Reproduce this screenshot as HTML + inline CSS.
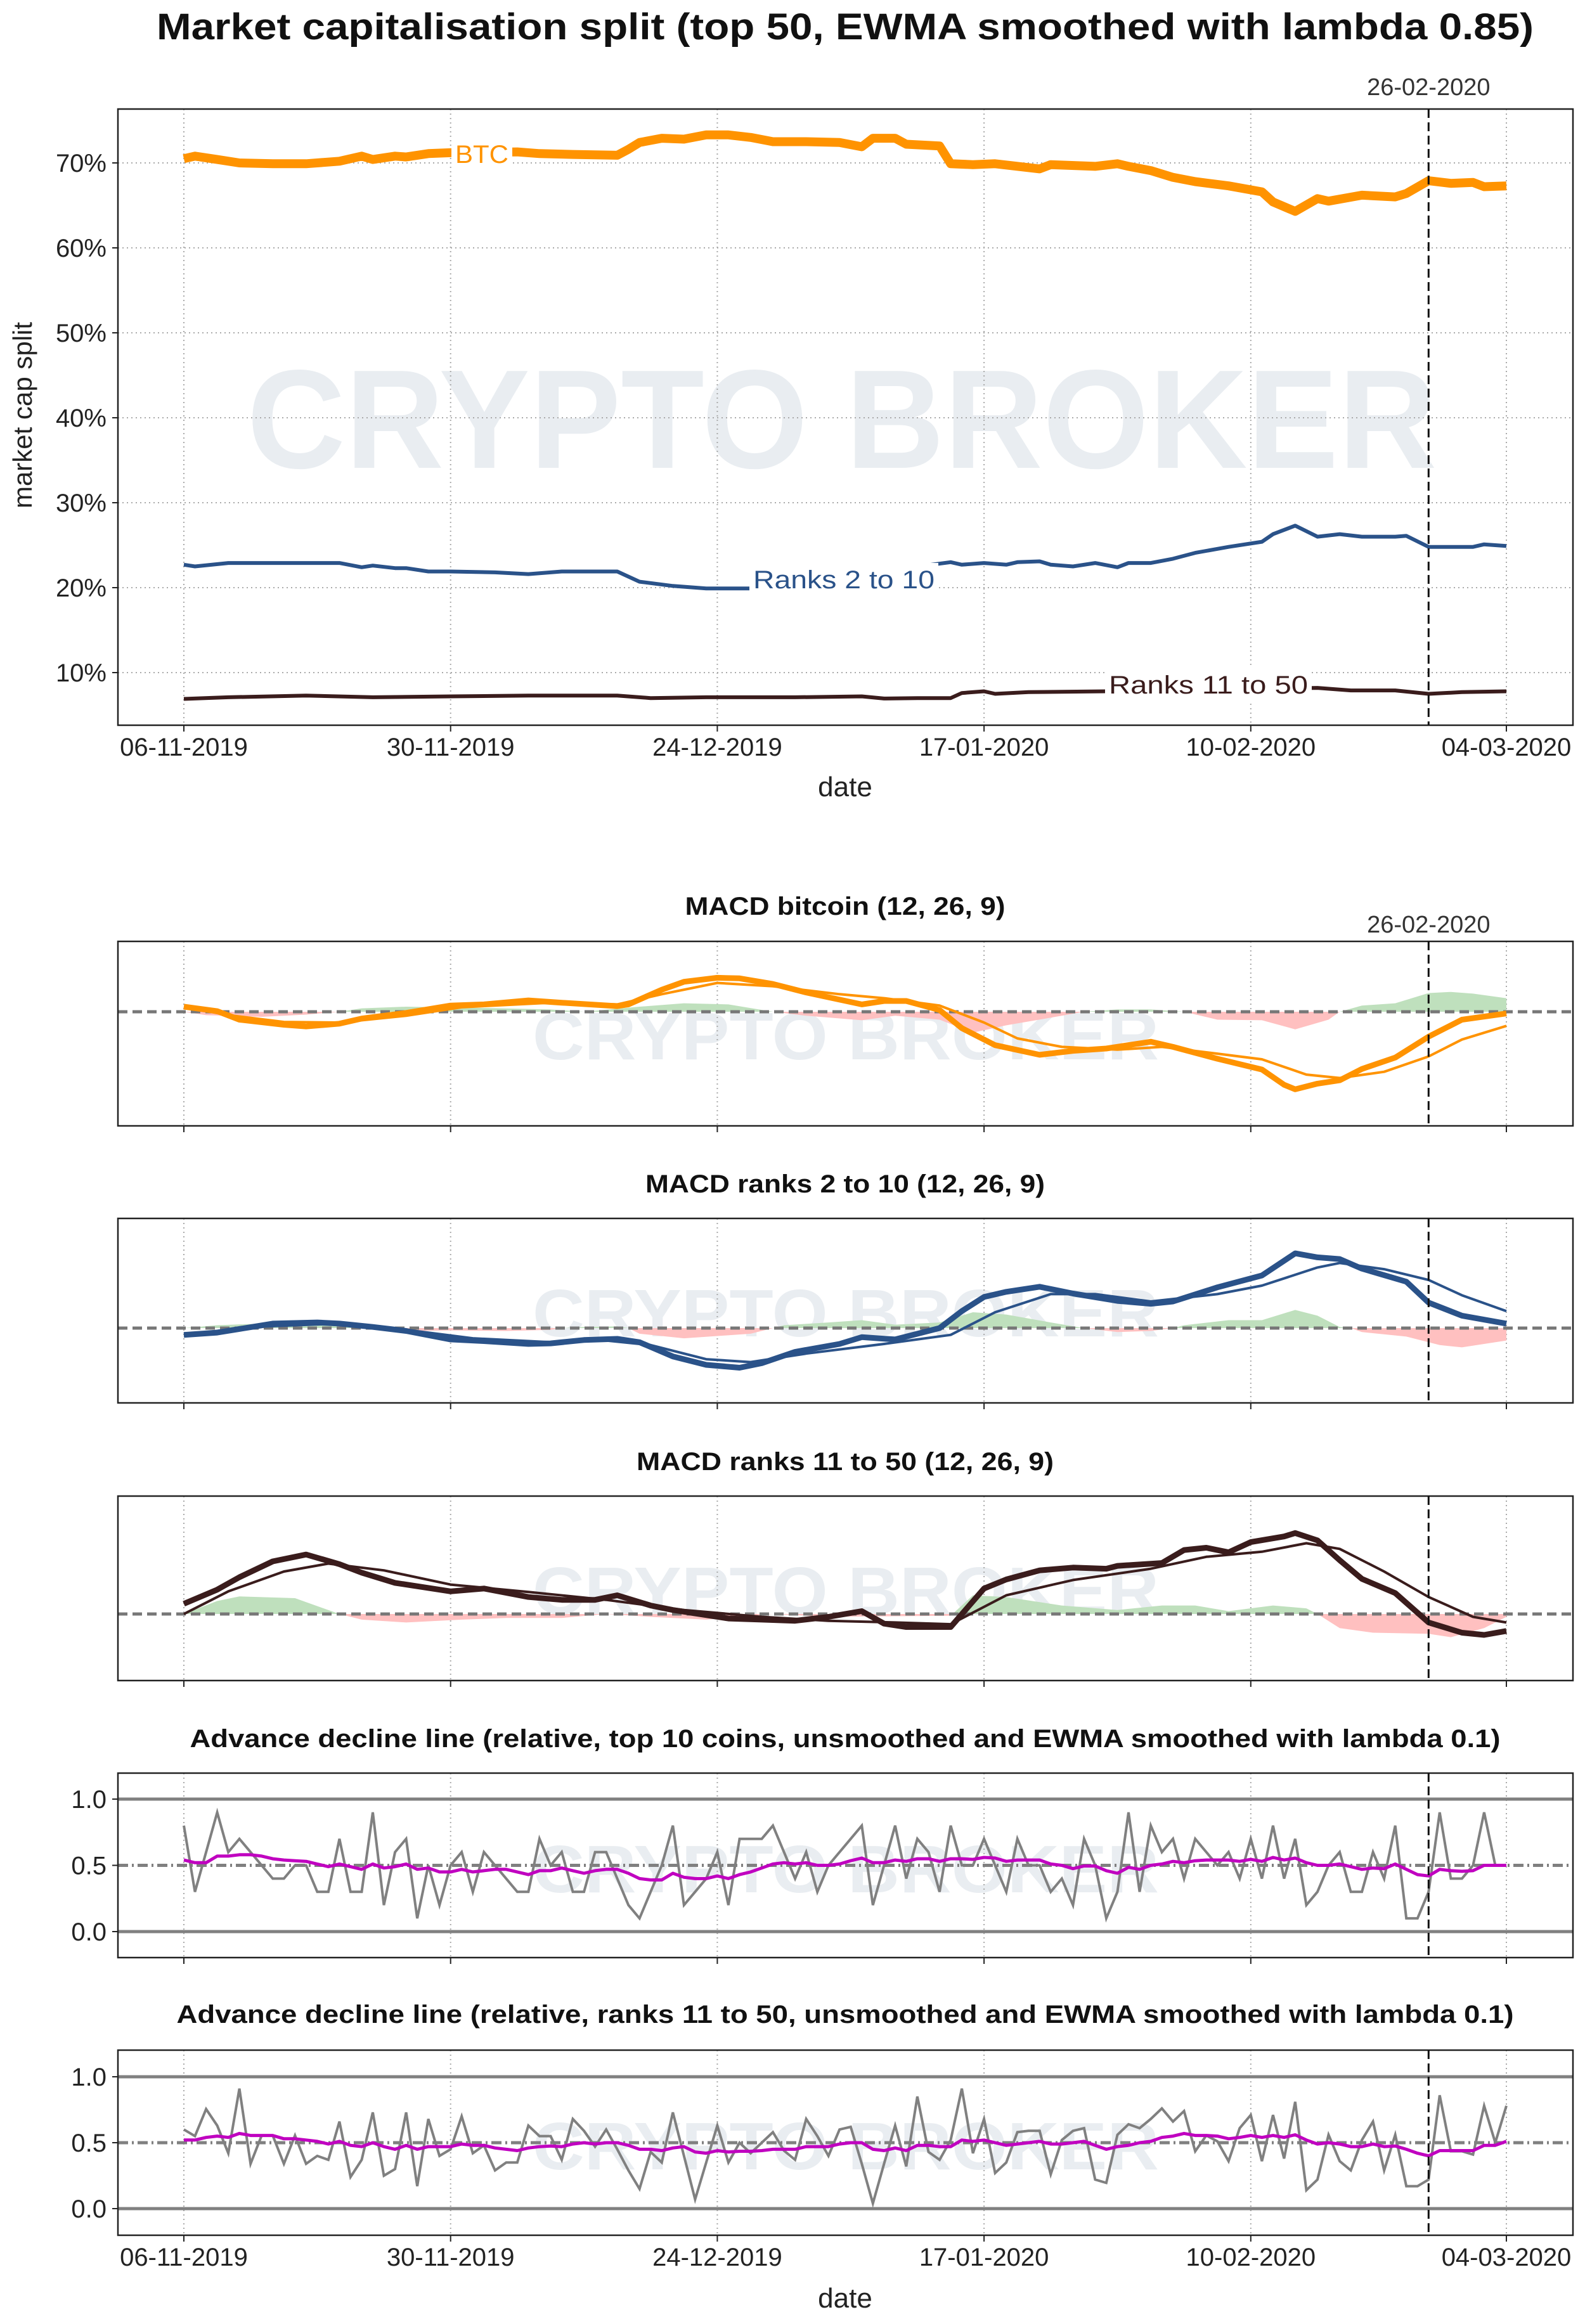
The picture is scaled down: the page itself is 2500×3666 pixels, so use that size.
<!DOCTYPE html>
<html><head><meta charset="utf-8"><title>Market capitalisation split</title>
<style>
html,body{margin:0;padding:0;background:#fff;}
svg{display:block;}
text{font-family:"Liberation Sans","DejaVu Sans",sans-serif;}
</style></head>
<body>
<svg id="fig" xmlns="http://www.w3.org/2000/svg" width="2500" height="3666" viewBox="0 0 2500 3666">
<rect x="0" y="0" width="2500" height="3666" fill="#fff"/>
<text x="1333" y="62" text-anchor="middle" font-size="58" font-weight="bold" fill="#111" textLength="2172" lengthAdjust="spacingAndGlyphs">Market capitalisation split (top 50, EWMA smoothed with lambda 0.85)</text>
<g id="root"></g>
</svg>
<script>
// ---------- shared axis ----------
const tickDays = [0, 24, 48, 72, 96, 119];
const tickLabels = ["06-11-2019", "30-11-2019", "24-12-2019", "17-01-2020", "10-02-2020", "04-03-2020"];
const markerDay = 112;
const markerLabel = "26-02-2020";

// ---------- top chart: market cap split (%) ----------
const btcDays = [0,1,3,5,8,11,14,16,17,19,20,22,24,30,32,35,39,40,41,43,45,47,49,51,53,56,59,61,62,64,65,68,69,71,73,77,78,82,84,85,87,89,91,94,97,98,100,102,103,106,109,110,112,114,116,117,119];
const btcVals = [70.5,70.8,70.4,70.0,69.9,69.9,70.2,70.8,70.4,70.8,70.7,71.1,71.2,71.3,71.1,71.0,70.9,71.6,72.4,72.9,72.8,73.3,73.3,73.0,72.5,72.5,72.4,71.9,72.9,72.9,72.2,72.0,69.9,69.8,69.9,69.3,69.8,69.6,69.9,69.6,69.1,68.3,67.8,67.3,66.6,65.4,64.3,65.8,65.5,66.2,66.0,66.4,67.9,67.6,67.7,67.2,67.3];
const r2Days = [0,1,4,11,14,16,17,19,20,22,24,28,31,34,39,41,44,47,51,69,70,72,74,75,77,78,80,82,84,85,87,89,91,94,97,98,100,102,104,106,109,110,112,114,116,117,119];
const r2Vals = [22.7,22.5,22.9,22.9,22.9,22.4,22.6,22.3,22.3,21.9,21.9,21.8,21.6,21.9,21.9,20.7,20.2,19.9,19.9,23.0,22.7,22.9,22.7,23.0,23.1,22.7,22.5,22.9,22.4,22.9,22.9,23.4,24.1,24.8,25.4,26.3,27.3,26.0,26.3,26.0,26.0,26.1,24.8,24.8,24.8,25.1,24.9];
const r11Days = [0,4,11,17,24,31,39,42,47,55,61,63,66,69,70,72,73,76,83,102,105,109,112,115,119];
const r11Vals = [6.9,7.1,7.3,7.1,7.2,7.3,7.3,7.0,7.1,7.1,7.2,6.95,7.0,7.0,7.6,7.8,7.5,7.7,7.8,8.2,7.9,7.9,7.5,7.7,7.8];
const pctTicks = [10,20,30,40,50,60,70];

// ---------- MACD panels (arbitrary units) ----------
const m1MacdDays = [0,3,5,9,11,14,16,20,24,27,31,34,39,40,43,45,48,50,53,56,61,63,65,68,70,73,77,80,83,87,89,93,97,99,100,102,104,106,109,112,115,119];
const m1MacdVals = [9,1,-14,-23,-26,-21,-12,-2,11,13,20,16,10,13,39,53,60,59,49,34,13,19,19,3,-29,-59,-76,-69,-65,-53,-62,-83,-102,-129,-137,-127,-121,-101,-81,-44,-14,-3];
const m1SigDays = [0,4,9,14,20,25,33,39,43,48,53,59,63,68,72,75,79,84,88,93,97,101,104,108,112,115,119];
const m1SigVals = [9,-6,-18,-19,-7,8,16,13,31,51,45,31,24,11,-19,-47,-62,-67,-62,-74,-84,-111,-117,-106,-79,-49,-25];
const m1HistDays = [0,2,7,11,14,16,20,26,33,36,41,45,49,53,56,61,64,68,71,74,79,81,84,87,90,93,97,100,103,104,106,109,112,114,116,119];
const m1HistVals = [0,-6,-9,-5,0,6,9,7,4,0,9,15,13,0,-7,-15,-7,-14,-37,-24,-7,0,4,4,0,-14,-15,-31,-14,0,11,15,33,35,32,24];

const m2MacdDays = [0,3,8,12,14,17,20,24,27,31,33,36,39,41,44,47,50,52,55,59,61,64,68,70,72,74,77,80,84,87,89,93,97,100,102,104,106,110,112,115,119];
const m2MacdVals = [-12,-8,8,10,8,2,-5,-20,-23,-28,-27,-21,-19,-25,-50,-65,-70,-62,-42,-28,-16,-20,0,30,55,64,73,61,48,43,47,72,93,132,125,122,105,82,45,22,8];
const m2SigDays = [0,6,14,20,26,33,38,42,47,51,56,63,69,73,78,82,87,93,97,102,104,108,112,115,119];
const m2SigVals = [-12,2,8,-3,-18,-25,-22,-30,-55,-60,-45,-28,-12,28,60,60,47,60,75,107,115,104,85,58,30];
const m2HistDays = [0,3,7,13,16,18,20,24,29,33,34,36,39,40,41,45,51,53,54,58,61,64,68,71,74,78,81,84,87,89,90,94,97,100,102,104,105,106,110,113,115,119];
const m2HistVals = [0,5,8,6,2,0,-5,-4,-5,-3,0,2,3,0,-10,-18,-10,0,5,10,14,6,10,28,24,10,0,-7,-5,0,5,14,14,32,22,2,0,-7,-15,-30,-34,-22];

const m3MacdDays = [0,3,5,8,11,14,16,19,24,27,31,34,37,39,42,44,49,52,55,58,61,63,65,69,72,74,77,80,83,84,88,90,92,94,96,99,100,102,104,106,109,112,115,117,119];
const m3MacdVals = [18,43,65,93,105,88,73,55,40,45,30,25,25,33,15,7,-8,-10,-12,-5,5,-17,-23,-23,45,61,77,82,80,85,90,113,117,109,127,137,143,130,95,62,37,-15,-33,-37,-30];
const m3SigDays = [0,4,9,13,18,24,31,38,45,52,58,64,69,74,80,87,92,97,101,104,108,112,116,119];
const m3SigVals = [0,40,75,89,77,52,39,25,7,-5,-12,-15,-18,33,60,80,101,110,125,115,75,30,-5,-15];
const m3HistDays = [0,3,5,10,14,16,20,25,29,34,38,42,47,53,58,69,71,74,79,84,88,91,94,98,101,102,104,107,112,114,117,119];
const m3HistVals = [0,23,31,28,0,-10,-15,-10,-7,-7,0,-5,-10,0,-5,-3,33,30,15,7,15,15,5,15,10,0,-25,-33,-35,-41,-25,-5];

// ---------- Advance decline (relative) ----------
const ad1Raw = [0.8,0.3,0.6,0.9,0.6,0.7,0.6,0.5,0.4,0.4,0.5,0.5,0.3,0.3,0.7,0.3,0.3,0.9,0.2,0.6,0.7,0.1,0.5,0.2,0.5,0.6,0.3,0.6,0.5,0.4,0.3,0.3,0.7,0.5,0.6,0.3,0.3,0.6,0.6,0.4,0.2,0.1,0.3,0.5,0.8,0.2,0.3,0.4,0.6,0.2,0.7,0.7,0.7,0.8,0.6,0.4,0.6,0.3,0.5,0.6,
0.7,0.8,0.2,0.5,0.8,0.4,0.7,0.6,0.3,0.8,0.5,0.5,0.7,0.5,0.3,0.7,0.5,0.5,0.3,0.4,0.2,0.7,0.5,0.1,0.3,0.9,0.3,0.8,0.6,0.7,0.4,0.7,0.6,0.5,0.6,0.4,0.7,0.4,0.8,0.4,0.7,0.2,0.3,0.5,0.6,0.3,0.3,0.6,0.4,0.8,0.1,0.1,0.3,0.9,0.4,0.4,0.5,0.9,0.5,0.5];
const ad1Smooth = [0.54,0.52,0.52,0.57,0.57,0.58,0.58,0.57,0.55,0.54,0.535,0.53,0.51,0.49,0.51,0.49,0.47,0.51,0.48,0.49,0.51,0.47,0.48,0.45,0.45,0.47,0.45,0.46,0.47,0.47,0.45,0.43,0.46,0.46,0.48,0.46,0.44,0.46,0.47,0.47,0.44,0.40,0.39,0.39,0.44,0.41,0.40,0.40,0.42,0.40,0.43,0.45,0.48,0.51,0.52,0.51,0.52,0.50,0.50,0.51,
0.535,0.555,0.52,0.52,0.54,0.53,0.55,0.55,0.53,0.55,0.55,0.545,0.56,0.555,0.53,0.54,0.54,0.54,0.51,0.50,0.475,0.495,0.495,0.46,0.44,0.485,0.47,0.50,0.51,0.53,0.52,0.535,0.54,0.54,0.54,0.53,0.545,0.53,0.56,0.54,0.555,0.52,0.50,0.50,0.51,0.49,0.47,0.48,0.475,0.51,0.47,0.43,0.42,0.47,0.46,0.455,0.46,0.50,0.50,0.50];
const ad2Raw = [0.60,0.55,0.755,0.63,0.42,0.91,0.34,0.555,0.555,0.34,0.555,0.34,0.40,0.37,0.66,0.24,0.37,0.73,0.25,0.30,0.73,0.17,0.68,0.40,0.45,0.70,0.42,0.48,0.29,0.35,0.35,0.63,0.55,0.55,0.37,0.68,0.59,0.47,0.60,0.45,0.29,0.15,0.43,0.35,0.73,0.40,0.07,0.35,0.63,0.35,0.50,0.42,0.50,0.58,0.44,0.37,0.68,0.55,0.40,0.60,
0.62,0.34,0.04,0.34,0.63,0.32,0.85,0.43,0.37,0.52,0.91,0.42,0.68,0.27,0.35,0.58,0.59,0.59,0.26,0.52,0.59,0.61,0.22,0.195,0.56,0.64,0.61,0.68,0.76,0.66,0.74,0.435,0.555,0.51,0.36,0.61,0.71,0.36,0.71,0.38,0.81,0.14,0.22,0.56,0.36,0.29,0.52,0.66,0.29,0.56,0.17,0.17,0.22,0.86,0.435,0.435,0.41,0.78,0.50,0.78];
const ad2Smooth = [0.52,0.52,0.54,0.55,0.54,0.57,0.555,0.555,0.555,0.53,0.53,0.52,0.51,0.49,0.51,0.48,0.47,0.50,0.47,0.45,0.48,0.45,0.47,0.47,0.47,0.49,0.48,0.48,0.46,0.45,0.44,0.46,0.47,0.475,0.47,0.49,0.50,0.49,0.50,0.50,0.48,0.45,0.45,0.44,0.46,0.47,0.43,0.42,0.44,0.43,0.435,0.435,0.44,0.45,0.45,0.45,0.47,0.47,0.47,0.49,
0.50,0.50,0.45,0.44,0.46,0.44,0.48,0.48,0.47,0.47,0.52,0.51,0.52,0.50,0.48,0.49,0.50,0.51,0.49,0.49,0.50,0.51,0.48,0.45,0.47,0.48,0.50,0.51,0.54,0.55,0.57,0.555,0.555,0.55,0.53,0.54,0.555,0.54,0.555,0.54,0.56,0.52,0.49,0.50,0.49,0.47,0.47,0.49,0.47,0.475,0.45,0.42,0.40,0.44,0.44,0.44,0.44,0.48,0.48,0.51];
const adTicks = [0.0, 0.5, 1.0];
const adTickLabels = ["0.0", "0.5", "1.0"];

// ---------- drawing ----------
const NS = "http://www.w3.org/2000/svg";
const root = document.getElementById('root');
const X0 = 186, X1 = 2481;
const xDay = d => 290 + d * (2376 - 290) / 119;

function mk(tag, attrs, parent) {
  const e = document.createElementNS(NS, tag);
  for (const k in attrs) e.setAttribute(k, attrs[k]);
  (parent || root).appendChild(e);
  return e;
}
function txt(str, attrs, parent) { const t = mk('text', attrs, parent); t.textContent = str; return t; }
function linePath(days, vals, yf) {
  return days.map((d, i) => (i ? 'L' : 'M') + xDay(d).toFixed(1) + ' ' + yf(vals[i]).toFixed(1)).join(' ');
}

function frame(top, bottom, withLabels, name) {
  const g = mk('g', {});
  
  
  tickDays.forEach((d, i) => {
    const gl = mk('line', {x1: xDay(d), x2: xDay(d), y1: top, y2: bottom, stroke: '#aaa', 'stroke-width': 2, 'stroke-dasharray': '2 5'}, g);
    
    
    const tk = mk('line', {x1: xDay(d), x2: xDay(d), y1: bottom, y2: bottom + 10, stroke: '#222', 'stroke-width': 2}, g);
    
    
    if (withLabels) {
      const t = txt(tickLabels[i], {x: xDay(d), y: bottom + 48, 'text-anchor': 'middle', 'font-size': 40, fill: '#222'}, g);
      
      
    }
  });
  return g;
}
function border(top, bottom, name) {
  const r = mk('rect', {x: X0, y: top, width: X1 - X0, height: bottom - top, fill: 'none', stroke: '#222', 'stroke-width': 2.5});
  
  
  const v = mk('line', {x1: xDay(markerDay), x2: xDay(markerDay), y1: top, y2: bottom, stroke: '#111', 'stroke-width': 3, 'stroke-dasharray': '14 7'});
  
  
}
function watermark(x, y, size, len) {
  const w = txt('CRYPTO BROKER', {x: x, y: y, 'text-anchor': 'middle', 'font-size': size, 'font-weight': 'bold', fill: '#e9edf1', textLength: len, lengthAdjust: 'spacingAndGlyphs'});
  
  
}
function title(str, y, len) {
  const t = txt(str, {x: 1333, y: y, 'text-anchor': 'middle', 'font-size': 40, 'font-weight': 'bold', fill: '#111', textLength: len, lengthAdjust: 'spacingAndGlyphs'});
  
  
}
function markerText(y) {
  const t = txt(markerLabel, {x: xDay(markerDay), y: y, 'text-anchor': 'middle', 'font-size': 38, fill: '#333'});
  
  
}

// ===== top chart =====
const T0 = 172, T1 = 1144;
const yPct = v => 257 + (70 - v) * 13.4;
watermark(1328, 738, 222, 1877);
frame(T0, T1, true, 'market-cap');
pctTicks.forEach(p => {
  const gl = mk('line', {x1: X0, x2: X1, y1: yPct(p), y2: yPct(p), stroke: '#aaa', 'stroke-width': 2, 'stroke-dasharray': '2 5'});
  
  
  const tk = mk('line', {x1: X0 - 9, x2: X0, y1: yPct(p), y2: yPct(p), stroke: '#222', 'stroke-width': 2});
  
  
  const t = txt(p + '%', {x: 168, y: yPct(p) + 14, 'text-anchor': 'end', 'font-size': 40, fill: '#222'});
  
  
});
const lBtc = mk('path', {d: linePath(btcDays, btcVals, yPct), fill: 'none', stroke: '#ff9300', 'stroke-width': 14, 'stroke-linejoin': 'round'});


const lR2 = mk('path', {d: linePath(r2Days, r2Vals, yPct), fill: 'none', stroke: '#2a5289', 'stroke-width': 6, 'stroke-linejoin': 'round'});


const lR11 = mk('path', {d: linePath(r11Days, r11Vals, yPct), fill: 'none', stroke: '#3a1c1c', 'stroke-width': 6, 'stroke-linejoin': 'round'});


function lineLabel(str, cx, cy, w, color, name) {
  const bg = mk('rect', {x: cx - w / 2 - 6, y: cy - 26, width: w + 12, height: 52, fill: '#fff'});
  
  
  const t = txt(str, {x: cx, y: cy + 14, 'text-anchor': 'middle', 'font-size': 40, fill: color, textLength: w, lengthAdjust: 'spacingAndGlyphs'});
  
  
}
lineLabel('BTC', 760, 243, 84, '#ff9300', 'btc-label');
lineLabel('Ranks 2 to 10', 1331, 914, 286, '#2a5289', 'ranks-2-10-label');
lineLabel('Ranks 11 to 50', 1906, 1080, 314, '#3a1c1c', 'ranks-11-50-label');
border(T0, T1, 'market-cap');
markerText(150);
const yl = txt('market cap split', {x: 0, y: 0, 'text-anchor': 'middle', 'font-size': 42, fill: '#222', transform: 'translate(50,655) rotate(-90)'});


const xl1 = txt('date', {x: 1333, y: 1256, 'text-anchor': 'middle', 'font-size': 44, fill: '#222'});



// ===== MACD panels =====
function macdPanel(top, bottom, zeroY, ttl, ttlY, ttlLen, md, mv, sd, sv, hd, hv, color, name, showMarkerText) {
  const yf = v => zeroY - v * 0.893;
  title(ttl, ttlY, ttlLen);
  watermark(1334, top + 186, 106, 988);
  frame(top, bottom, false, name);
  const cid = name + '-clip';
  const defs = mk('defs', {});
  const cpA = mk('clipPath', {id: cid + 'a'}, defs);
  mk('rect', {x: 0, y: top, width: 2500, height: zeroY - top}, cpA);
  const cpB = mk('clipPath', {id: cid + 'b'}, defs);
  mk('rect', {x: 0, y: zeroY, width: 2500, height: bottom - zeroY}, cpB);
  const area = linePath(hd, hv, yf) + ' L' + xDay(hd[hd.length - 1]) + ' ' + zeroY + ' L' + xDay(hd[0]) + ' ' + zeroY + ' Z';
  const ha = mk('path', {d: area, fill: '#bfe0bd', 'clip-path': 'url(#' + cid + 'a)'});
  
  
  const hb = mk('path', {d: area, fill: '#ffc0c0', 'clip-path': 'url(#' + cid + 'b)'});
  
  
  const z = mk('line', {x1: X0, x2: X1, y1: zeroY, y2: zeroY, stroke: '#777', 'stroke-width': 5, 'stroke-dasharray': '15 8'});
  
  
  const s = mk('path', {d: linePath(sd, sv, yf), fill: 'none', stroke: color, 'stroke-width': 4, 'stroke-linejoin': 'round'});
  
  
  const m = mk('path', {d: linePath(md, mv, yf), fill: 'none', stroke: color, 'stroke-width': 9, 'stroke-linejoin': 'round'});
  
  
  border(top, bottom, name);
  if (showMarkerText) markerText(top - 14);
}
macdPanel(1485, 1776, 1596, 'MACD bitcoin (12, 26, 9)', 1443, 505, m1MacdDays, m1MacdVals, m1SigDays, m1SigVals, m1HistDays, m1HistVals, '#ff9300', 'macd-btc', true);
macdPanel(1922, 2213, 2095, 'MACD ranks 2 to 10 (12, 26, 9)', 1881, 630, m2MacdDays, m2MacdVals, m2SigDays, m2SigVals, m2HistDays, m2HistVals, '#2a5289', 'macd-ranks-2-10', false);
macdPanel(2360, 2651, 2546, 'MACD ranks 11 to 50 (12, 26, 9)', 2319, 658, m3MacdDays, m3MacdVals, m3SigDays, m3SigVals, m3HistDays, m3HistVals, '#3a1c1c', 'macd-ranks-11-50', false);

// ===== Advance decline panels =====
function adPanel(top, bottom, y1, y0, ttl, ttlY, ttlLen, raw, smooth, labels, name) {
  const yf = v => y0 - v * (y0 - y1);
  title(ttl, ttlY, ttlLen);
  watermark(1334, top + 188, 106, 988);
  frame(top, bottom, labels, name);
  adTicks.forEach((v, i) => {
    const ref = mk('line', {x1: X0, x2: X1, y1: yf(v), y2: yf(v), stroke: '#808080', 'stroke-width': 5, 'stroke-dasharray': v === 0.5 ? '16 6 3 6' : 'none'});
    
    
    const tk = mk('line', {x1: X0 - 9, x2: X0, y1: yf(v), y2: yf(v), stroke: '#222', 'stroke-width': 2});
    
    
    const t = txt(adTickLabels[i], {x: 168, y: yf(v) + 14, 'text-anchor': 'end', 'font-size': 40, fill: '#222'});
    
    
  });
  const days = raw.map((_, i) => i);
  const r = mk('path', {d: linePath(days, raw, yf), fill: 'none', stroke: '#808080', 'stroke-width': 4, 'stroke-linejoin': 'miter'});
  
  
  const s = mk('path', {d: linePath(days, smooth, yf), fill: 'none', stroke: '#c000c0', 'stroke-width': 5, 'stroke-linejoin': 'round'});
  
  
  border(top, bottom, name);
}
adPanel(2797, 3088, 2838, 3047, 'Advance decline line (relative, top 10 coins, unsmoothed and EWMA smoothed with lambda 0.1)', 2756, 2067, ad1Raw, ad1Smooth, false, 'ad-top10');
adPanel(3234, 3526, 3276, 3484, 'Advance decline line (relative, ranks 11 to 50, unsmoothed and EWMA smoothed with lambda 0.1)', 3191, 2109, ad2Raw, ad2Smooth, true, 'ad-ranks-11-50');
const xl2 = txt('date', {x: 1333, y: 3640, 'text-anchor': 'middle', 'font-size': 44, fill: '#222'});


</script>
</body></html>
